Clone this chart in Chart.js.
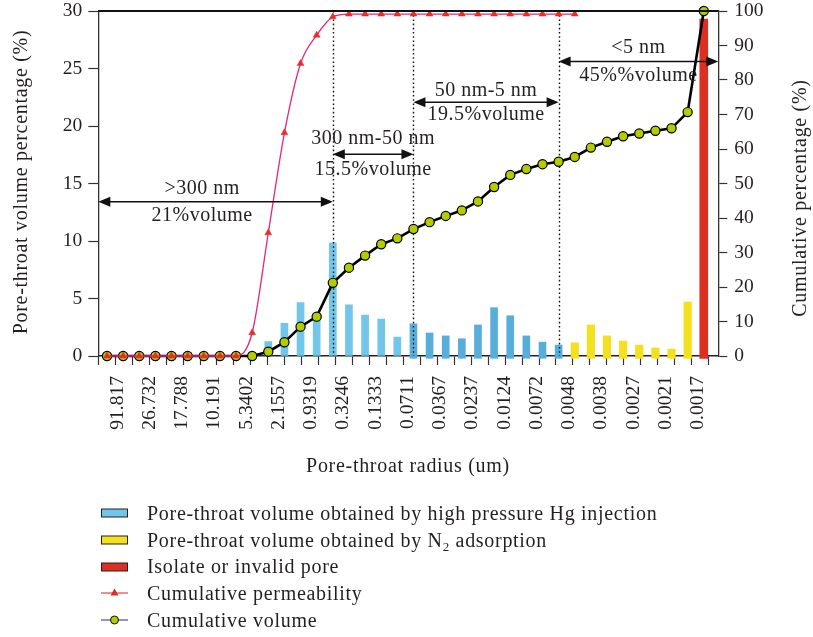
<!DOCTYPE html>
<html>
<head>
<meta charset="utf-8">
<script src="https://cdn.jsdelivr.net/npm/chart.js@4/dist/chart.umd.min.js"></script>
<style>
  html, body { margin: 0; padding: 0; background: #fff; }
  #wrap { position: relative; width: 813px; height: 637px; }
  #chart { position: absolute; left: 0; top: 0; }
  .legend { position: absolute; left: 101px; top: 500px; font-family: 'Liberation Serif', serif; font-size: 20px; letter-spacing: 0.7px; color: #231f20; }
  .legend div { height: 26.7px; display: flex; align-items: center; white-space: nowrap; }
  .legend svg { margin-right: 19px; flex: none; }
  .legend sub { font-size: 13px; vertical-align: -4px; line-height: 0; }
</style>
</head>
<body>
<div id="wrap">
  <canvas id="chart" width="813" height="637"></canvas>
  <div class="legend">
    <div><svg width="27" height="12"><rect x="0.5" y="2" width="26" height="8" fill="#72c6ea" stroke="#222" stroke-width="1"/></svg><span>Pore-throat volume obtained by high pressure Hg injection</span></div>
    <div><svg width="27" height="12"><rect x="0.5" y="2" width="26" height="8" fill="#f4e01c" stroke="#222" stroke-width="1"/></svg><span>Pore-throat volume obtained by N<sub>2</sub> adsorption</span></div>
    <div><svg width="27" height="12"><rect x="0.5" y="2" width="26" height="8" fill="#dc2f1f" stroke="#222" stroke-width="1"/></svg><span>Isolate or invalid pore</span></div>
    <div><svg width="27" height="12"><line x1="0" y1="6" x2="27" y2="6" stroke="#ef5050" stroke-width="1.3"/><polygon points="13.5,1.5 17.5,8.5 9.5,8.5" fill="#e32a26"/></svg><span>Cumulative permeability</span></div>
    <div><svg width="27" height="12"><line x1="0" y1="6" x2="27" y2="6" stroke="#5a55c0" stroke-width="1.3"/><circle cx="13.5" cy="6" r="4" fill="#b2cc00" stroke="#111" stroke-width="1"/></svg><span>Cumulative volume</span></div>
  </div>
</div>
<script>
// pore-throat radius (um), one label for every second size class
const radiusLabels = ['91.817', '26.732', '17.788', '10.191', '5.3402', '2.1557', '0.9319', '0.3246', '0.1333',
  '0.0711', '0.0367', '0.0237', '0.0124', '0.0072', '0.0048', '0.0038', '0.0027', '0.0021', '0.0017']

// volume percentage per size class (38 classes, largest radius first)
const hgVolume = [null, null, null, null, null, null, null, null, null, null,
  1.25, 2.85, 4.65, 3.6, 9.85, 4.45, 3.55, 3.2, 1.65,
  2.8, 2.0, 1.75, 1.5, 2.7, 4.2, 3.5, 1.75, 1.2, 0.95,
  null, null, null, null, null, null, null, null, null]
const n2Volume = [null, null, null, null, null, null, null, null, null, null,
  null, null, null, null, null, null, null, null, null,
  null, null, null, null, null, null, null, null, null, null,
  1.15, 2.7, 1.75, 1.3, 0.95, 0.7, 0.6, 4.7, null]
const invalidPore = [null, null, null, null, null, null, null, null, null, null,
  null, null, null, null, null, null, null, null, null,
  null, null, null, null, null, null, null, null, null, null,
  null, null, null, null, null, null, null, null, 29.3]

// cumulative curves (%)
const cumVolume = [0, 0, 0, 0, 0, 0, 0, 0, 0, 0,
  1.25, 4.0, 8.5, 11.4, 21.2, 25.6, 29.1, 32.4, 34.1,
  36.8, 38.8, 40.6, 42.2, 44.8, 49.0, 52.5, 54.2, 55.6, 56.3,
  57.7, 60.4, 62.1, 63.7, 64.5, 65.3, 66.0, 70.7, 100]
const cumPermeability = [0, 0, 0, 0, 0, 0, 0, 0, 0, 6.75,
  35.7, 64.7, 84.8, 93.0, 98.3, 99.1, 99.1, 99.1, 99.1,
  99.1, 99.1, 99.1, 99.1, 99.1, 99.1, 99.1, 99.1, 99.1, 99.1,
  99.1, null, null, null, null, null, null, null, null]

// class index where the second Hg run starts
const hgSecondRun = 19

// pore ranges, bounded by size classes (null = plot edge)
const rangeFrom = [null, 14, 19, 28]
const rangeTo = [14, 19, 28, null]
const rangeNames = ['>300 nm', '300 nm-50 nm', '50 nm-5 nm', '<5 nm']
const rangeShares = ['21%volume', '15.5%volume', '19.5%volume', '45%%volume']

const serif = "'Liberation Serif', 'Times New Roman', serif"
const ink = '#231f20'

const points = (arr, keep) => arr.map((v, i) => ({ x: i, y: keep && !keep(i) ? null : v }))

const rangeNotes = {
  id: 'rangeNotes',
  beforeDatasetDraw(chart, args) {
    if (args.index !== 4) return
    const { ctx, chartArea, scales } = chart
    ctx.save()
    ctx.strokeStyle = '#111'
    ctx.lineWidth = 1.4
    ctx.setLineDash([1.6, 2.6])
    for (const i of [14, 19, 28]) {
      const px = Math.round(scales.x.getPixelForValue(i)) + 0.5
      ctx.beginPath()
      ctx.moveTo(px, chartArea.top)
      ctx.lineTo(px, chartArea.bottom)
      ctx.stroke()
    }
    ctx.restore()
  },
  afterDraw(chart) {
    const { ctx, chartArea, scales } = chart
    const x = scales.x, y = scales.y
    ctx.save()

    // closing line along the top of the frame
    ctx.strokeStyle = '#111'
    ctx.lineWidth = 1.8
    ctx.beginPath()
    ctx.moveTo(chartArea.left, chartArea.top)
    ctx.lineTo(chartArea.right, chartArea.top)
    ctx.stroke()

    // double arrows with range texts
    const levels = [13.42, 17.54, 22.06, 25.6]
    const nameGap = [-12.5, -16, -12, -13.5]
    const shareGap = [14, 15.5, 12, 14]
    ctx.fillStyle = '#111'
    ctx.strokeStyle = '#111'
    ctx.lineWidth = 1.5
    ctx.font = '20px ' + serif
    ctx.letterSpacing = '0.5px'
    ctx.textAlign = 'center'
    ctx.textBaseline = 'middle'
    rangeNames.forEach((name, k) => {
      const x0 = rangeFrom[k] === null ? chartArea.left : x.getPixelForValue(rangeFrom[k])
      const x1 = rangeTo[k] === null ? chartArea.right : x.getPixelForValue(rangeTo[k])
      const py = y.getPixelForValue(levels[k])
      ctx.beginPath()
      ctx.moveTo(x0 + 4, py)
      ctx.lineTo(x1 - 4, py)
      ctx.stroke()
      for (const [tip, dir] of [[x0, -1], [x1, 1]]) {
        ctx.beginPath()
        ctx.moveTo(tip, py)
        ctx.lineTo(tip - dir * 12, py - 5)
        ctx.lineTo(tip - dir * 12, py + 5)
        ctx.closePath()
        ctx.fill()
      }
      const cx = k === 0 ? x.getPixelForValue(5.9) : (x0 + x1) / 2
      ctx.fillStyle = ink
      ctx.fillText(name, cx, py + nameGap[k])
      ctx.fillText(rangeShares[k], cx, py + shareGap[k])
      ctx.fillStyle = '#111'
    })

    // axis titles
    ctx.fillStyle = ink
    ctx.letterSpacing = '0.7px'
    ctx.fillText('Pore-throat radius (um)', 408, 467)
    ctx.save()
    ctx.translate(22, 182)
    ctx.rotate(-Math.PI / 2)
    ctx.fillText('Pore-throat volume percentage (%)', 0, 0)
    ctx.restore()
    ctx.save()
    ctx.translate(801, 198)
    ctx.rotate(-Math.PI / 2)
    ctx.fillText('Cumulative percentage (%)', 0, 0)
    ctx.restore()

    ctx.restore()
  }
}

const tickFont = { family: serif, size: 19.5, lineHeight: 1 }

// keep the axes from reserving label overhang around the plot
const noOverhang = (scale) => {
  scale.paddingLeft = 0
  scale.paddingRight = 0
  scale.paddingTop = 0
  scale.paddingBottom = 0
}

new Chart(document.getElementById('chart'), {
  type: 'bar',
  data: {
    datasets: [
      {
        label: 'Pore-throat volume obtained by high pressure Hg injection',
        data: points(hgVolume, i => i < hgSecondRun),
        backgroundColor: '#72c6ea',
        barThickness: 7,
        grouped: false,
        order: 3
      },
      {
        label: 'Pore-throat volume obtained by high pressure Hg injection',
        data: points(hgVolume, i => i >= hgSecondRun),
        backgroundColor: '#58aedb',
        barThickness: 7,
        grouped: false,
        base: -0.2,
        clip: false,
        order: 3
      },
      {
        label: 'Pore-throat volume obtained by N2 adsorption',
        data: points(n2Volume),
        backgroundColor: '#f4e01c',
        barThickness: 7.5,
        grouped: false,
        base: -0.2,
        clip: false,
        order: 3
      },
      {
        label: 'Isolate or invalid pore',
        data: points(invalidPore),
        backgroundColor: '#dc2f1f',
        barThickness: 8,
        grouped: false,
        base: -0.2,
        clip: false,
        order: 3
      },
      {
        type: 'line',
        label: 'Cumulative volume',
        data: points(cumVolume),
        yAxisID: 'y1',
        borderColor: '#000',
        borderWidth: 2.6,
        pointRadius: 4.6,
        pointBackgroundColor: '#b2cc00',
        pointBorderColor: '#000',
        pointBorderWidth: 1.2,
        clip: false,
        order: 2
      },
      {
        type: 'line',
        label: 'Cumulative permeability',
        data: points(cumPermeability),
        yAxisID: 'y1',
        borderColor: '#e8247f',
        borderWidth: 1.3,
        cubicInterpolationMode: 'monotone',
        pointStyle: 'triangle',
        pointRadius: 4,
        pointBackgroundColor: '#e62d27',
        pointBorderColor: '#e62d27',
        pointBorderWidth: 0.5,
        clip: false,
        order: 1
      }
    ]
  },
  options: {
    responsive: false,
    animation: false,
    layout: { padding: { top: 11, left: 0, right: 0, bottom: 0 } },
    plugins: { legend: { display: false }, tooltip: { enabled: false } },
    scales: {
      x: {
        type: 'linear',
        offset: false,
        min: -0.54,
        max: 37.9,
        afterBuildTicks(scale) {
          const ticks = []
          // 37 evenly spaced marks along the axis
          for (let m = 0; m < 37; m++) ticks.push({ value: -0.54 + m * 1.051 })
          radiusLabels.forEach((name, k) => ticks.push({ value: 2 * k + 0.65, name }))
          scale.ticks = ticks
        },
        afterFit(scale) {
          scale.height = 281
          noOverhang(scale)
        },
        grid: {
          offset: false,
          drawOnChartArea: false,
          tickLength: 9,
          tickWidth: 1.2,
          tickColor: c => (c.tick && c.tick.name ? 'rgba(0,0,0,0)' : '#333')
        },
        border: { color: '#222', width: 1.5 },
        ticks: {
          autoSkip: false,
          minRotation: 90,
          maxRotation: 90,
          padding: 11,
          color: ink,
          font: tickFont,
          callback(value, index, ticks) { return ticks[index].name || '' }
        }
      },
      y: {
        position: 'left',
        min: 0,
        max: 30,
        afterFit(scale) {
          scale.width = 98.3
          noOverhang(scale)
        },
        grid: { drawOnChartArea: false, tickLength: 10, tickWidth: 1.2, tickColor: '#333' },
        border: { color: '#333', width: 1.3 },
        ticks: { stepSize: 5, padding: 6, color: ink, font: tickFont }
      },
      y1: {
        position: 'right',
        min: 0,
        max: 100,
        afterFit(scale) {
          scale.width = 813 - 718.3
          noOverhang(scale)
        },
        grid: { drawOnChartArea: false, tickLength: 9, tickWidth: 1.2, tickColor: '#333' },
        border: { color: '#333', width: 1.3 },
        ticks: { stepSize: 10, padding: 7, color: ink, font: tickFont }
      }
    }
  },
  plugins: [rangeNotes]
})
</script>
</body>
</html>
